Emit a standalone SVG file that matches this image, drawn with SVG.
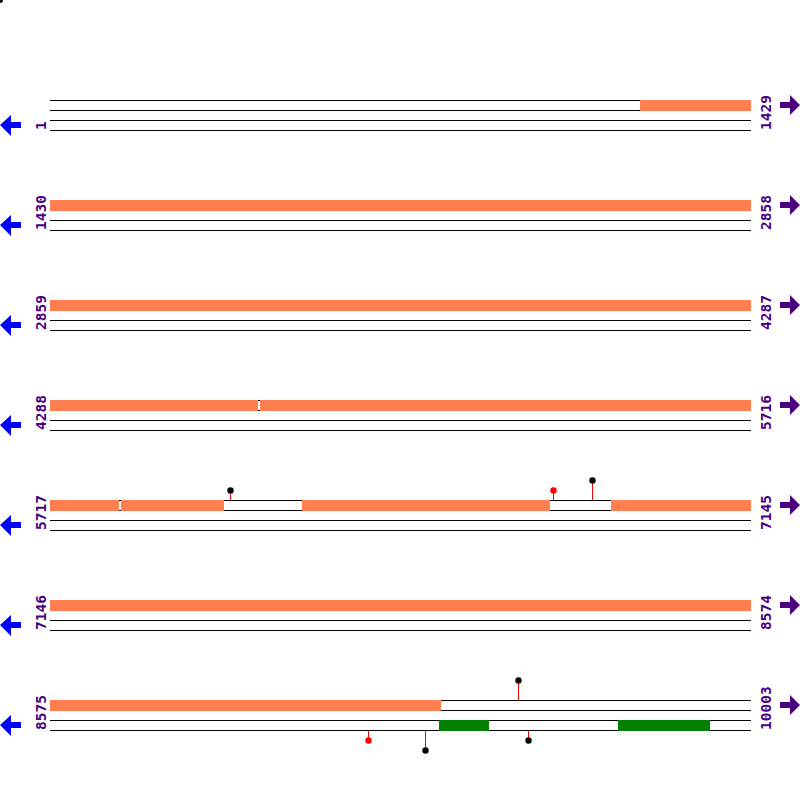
<svg xmlns="http://www.w3.org/2000/svg" width="800" height="800" viewBox="0 0 800 800">
<style>
.ln{stroke:#000;stroke-width:1;fill:none}
.or{fill:#FF7F50}
.gr{fill:#008000}
.wh{fill:#fff}
.lbl{font-family:"DejaVu Sans Mono","Liberation Mono",monospace;font-size:14.5px;font-weight:bold;fill:#4B0082}
.la{fill:#0000FF}
.ra{fill:#4B0082}
.stk{stroke:#FF0000;stroke-width:1}
.cb{fill:#000}
.cr{fill:#FF0000}
</style>
<defs>
<polygon id="larr" points="0,125 11,115 11,122 21,122 21,128 11,128 11,136"/>
<polygon id="rarr" points="780,102 790,102 790,95 800,105 790,115 790,108 780,108"/>
</defs>
<rect width="800" height="800" fill="#fff"/>
<circle cx="0" cy="0" r="3" fill="#000"/>

<g id="row1">
<line class="ln" x1="50" y1="100.5" x2="751" y2="100.5"/>
<line class="ln" x1="50" y1="110.5" x2="751" y2="110.5"/>
<rect class="or" x="640" y="100" width="111" height="11"/>
<line class="ln" x1="50" y1="120.5" x2="751" y2="120.5"/>
<line class="ln" x1="50" y1="130.5" x2="751" y2="130.5"/>
<use href="#larr" class="la"/>
<use href="#rarr" class="ra"/>
<text class="lbl" transform="translate(46,130) rotate(-90)">1</text>
<text class="lbl" transform="translate(771,130) rotate(-90)">1429</text>
</g>

<g id="row2" transform="translate(0,100)">
<rect class="or" x="50" y="100" width="701" height="11"/>
<line class="ln" x1="50" y1="120.5" x2="751" y2="120.5"/>
<line class="ln" x1="50" y1="130.5" x2="751" y2="130.5"/>
<use href="#larr" class="la"/>
<use href="#rarr" class="ra"/>
<text class="lbl" transform="translate(46,130) rotate(-90)">1430</text>
<text class="lbl" transform="translate(771,130) rotate(-90)">2858</text>
</g>

<g id="row3" transform="translate(0,200)">
<rect class="or" x="50" y="100" width="701" height="11"/>
<line class="ln" x1="50" y1="120.5" x2="751" y2="120.5"/>
<line class="ln" x1="50" y1="130.5" x2="751" y2="130.5"/>
<use href="#larr" class="la"/>
<use href="#rarr" class="ra"/>
<text class="lbl" transform="translate(46,130) rotate(-90)">2859</text>
<text class="lbl" transform="translate(771,130) rotate(-90)">4287</text>
</g>

<g id="row4" transform="translate(0,300)">
<rect class="or" x="50" y="100" width="208" height="11"/>
<rect class="or" x="260" y="100" width="491" height="11"/>
<line class="ln" x1="258" y1="100.5" x2="260" y2="100.5"/>
<line class="ln" x1="258" y1="110.5" x2="260" y2="110.5"/>
<line class="ln" x1="50" y1="120.5" x2="751" y2="120.5"/>
<line class="ln" x1="50" y1="130.5" x2="751" y2="130.5"/>
<use href="#larr" class="la"/>
<use href="#rarr" class="ra"/>
<text class="lbl" transform="translate(46,130) rotate(-90)">4288</text>
<text class="lbl" transform="translate(771,130) rotate(-90)">5716</text>
</g>

<g id="row5" transform="translate(0,400)">
<rect class="or" x="50" y="100" width="69" height="11"/>
<line class="ln" x1="119" y1="100.5" x2="121" y2="100.5"/>
<line class="ln" x1="119" y1="110.5" x2="121" y2="110.5"/>
<rect class="or" x="121" y="100" width="103" height="11"/>
<line class="ln" x1="224" y1="100.5" x2="302" y2="100.5"/>
<line class="ln" x1="224" y1="110.5" x2="302" y2="110.5"/>
<rect class="or" x="302" y="100" width="248" height="11"/>
<line class="ln" x1="550" y1="100.5" x2="611" y2="100.5"/>
<line class="ln" x1="550" y1="110.5" x2="611" y2="110.5"/>
<rect class="or" x="611" y="100" width="140" height="11"/>
<line class="ln" x1="50" y1="120.5" x2="751" y2="120.5"/>
<line class="ln" x1="50" y1="130.5" x2="751" y2="130.5"/>
<line class="stk" x1="230.5" y1="92" x2="230.5" y2="100"/>
<circle class="cb" cx="230.5" cy="90.5" r="3.2"/>
<line class="stk" x1="553.5" y1="92" x2="553.5" y2="100"/>
<circle class="cr" cx="553.5" cy="90.5" r="3.2"/>
<line class="stk" x1="592.5" y1="82" x2="592.5" y2="100"/>
<circle class="cb" cx="592.5" cy="80.5" r="3.2"/>
<use href="#larr" class="la"/>
<use href="#rarr" class="ra"/>
<text class="lbl" transform="translate(46,130) rotate(-90)">5717</text>
<text class="lbl" transform="translate(771,130) rotate(-90)">7145</text>
</g>

<g id="row6" transform="translate(0,500)">
<rect class="or" x="50" y="100" width="701" height="11"/>
<line class="ln" x1="50" y1="120.5" x2="751" y2="120.5"/>
<line class="ln" x1="50" y1="130.5" x2="751" y2="130.5"/>
<use href="#larr" class="la"/>
<use href="#rarr" class="ra"/>
<text class="lbl" transform="translate(46,130) rotate(-90)">7146</text>
<text class="lbl" transform="translate(771,130) rotate(-90)">8574</text>
</g>

<g id="row7" transform="translate(0,600)">
<rect class="or" x="50" y="100" width="391" height="11"/>
<line class="ln" x1="441" y1="100.5" x2="751" y2="100.5"/>
<line class="ln" x1="441" y1="110.5" x2="751" y2="110.5"/>
<line class="ln" x1="50" y1="120.5" x2="751" y2="120.5"/>
<line class="ln" x1="50" y1="130.5" x2="751" y2="130.5"/>
<rect class="gr" x="439" y="120" width="50" height="11"/>
<rect class="gr" x="618" y="120" width="92" height="11"/>
<line class="stk" x1="518.5" y1="82" x2="518.5" y2="100"/>
<circle class="cb" cx="518.5" cy="80.5" r="3.2"/>
<line class="stk" x1="368.5" y1="131" x2="368.5" y2="139"/>
<circle class="cr" cx="368.5" cy="140.5" r="3.2"/>
<line class="stk" x1="425.5" y1="131" x2="425.5" y2="149"/>
<circle class="cb" cx="425.5" cy="150.5" r="3.2"/>
<line class="stk" x1="528.5" y1="131" x2="528.5" y2="139"/>
<circle class="cb" cx="528.5" cy="140.5" r="3.2"/>
<use href="#larr" class="la"/>
<use href="#rarr" class="ra"/>
<text class="lbl" transform="translate(46,130) rotate(-90)">8575</text>
<text class="lbl" transform="translate(771,130) rotate(-90)">10003</text>
</g>
</svg>
